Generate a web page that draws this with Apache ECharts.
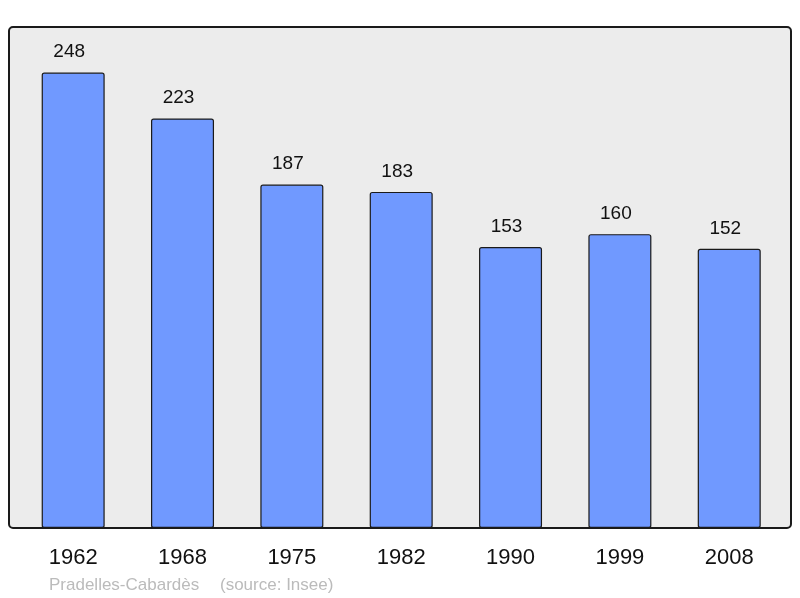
<!DOCTYPE html>
<html>
<head>
<meta charset="utf-8">
<script src="https://cdn.jsdelivr.net/npm/echarts@6/dist/echarts.min.js"></script>
<style>html,body{margin:0;padding:0;background:#fff;}#c{width:800px;height:598px;}</style>
</head>
<body>
<div id="c"></div>
<script>
const categories = ['1962', '1968', '1975', '1982', '1990', '1999', '2008'];
const population = [248, 223, 187, 183, 153, 160, 152];
const footerName = 'Pradelles-Cabardès';
const footerSource = '(source: Insee)';

const FONT = '"Liberation Sans", Arial, sans-serif';
const chart = echarts.init(document.getElementById('c'), null, {renderer: 'canvas'});
chart.setOption({
  animation: false,
  backgroundColor: '#ffffff',
  graphic: [
    {type: 'rect', z: -10, silent: true,
     shape: {x: 9, y: 27, width: 782, height: 501, r: 4},
     style: {fill: '#ececec', stroke: '#1a1a1a', lineWidth: 2}},
    {type: 'text', left: 49, top: 577, silent: true,
     style: {text: footerName, fill: '#bbbbbb', font: '17px ' + FONT}},
    {type: 'text', left: 220, top: 577, silent: true,
     style: {text: footerSource, fill: '#bbbbbb', font: '17px ' + FONT}}
  ],
  grid: {left: 18.5, top: 27, width: 765.4, height: 501, containLabel: false},
  xAxis: {
    type: 'category', data: categories,
    axisLine: {show: false}, axisTick: {show: false},
    axisLabel: {color: '#111', fontSize: 22, fontFamily: FONT, margin: 19}
  },
  yAxis: {type: 'value', min: 0, max: 272.8, show: false, splitLine: {show: false}},
  series: [{
    type: 'bar', data: population, barWidth: 63,
    itemStyle: {color: '#7099ff', borderColor: '#1a1a1a', borderWidth: 1.2, borderRadius: 2},
    label: {show: true, position: 'top', distance: 11, offset: [-4, 0], color: '#111', fontSize: 19, fontFamily: FONT}
  }]
});
</script>
</body>
</html>
